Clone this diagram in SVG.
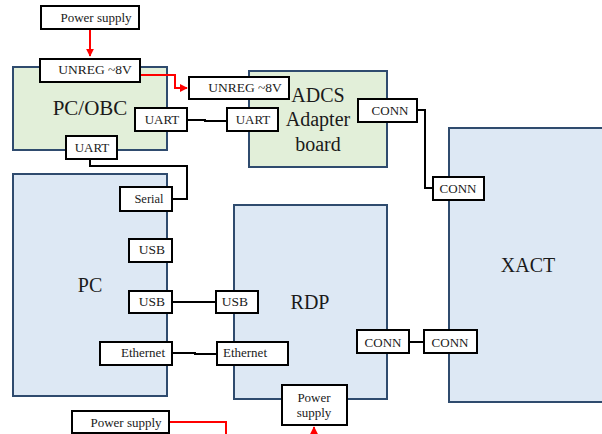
<svg xmlns="http://www.w3.org/2000/svg" width="602" height="434" viewBox="0 0 602 434">
<defs>
<marker id="ra" viewBox="0 0 10 10" refX="9" refY="5" markerWidth="4" markerHeight="4" orient="auto" markerUnits="strokeWidth">
<path d="M0,0 L10,5 L0,10 z" fill="#FF0000"/>
</marker>
</defs>
<style>
.green{fill:#E2EFD9;stroke:#2F4B6E;stroke-width:2}
.blue{fill:#DDE8F4;stroke:#2F4B6E;stroke-width:2}
.port{fill:#FFFFFF;stroke:#000000;stroke-width:2}
text{font-family:'Liberation Serif','Tinos','Times New Roman','DejaVu Serif',serif;fill:#1a1a1a;text-anchor:middle}
.big{font-size:20px}
.sm{font-size:13px}
.wire{fill:none;stroke:#000000;stroke-width:2}
.pwr{fill:none;stroke:#FF0000;stroke-width:2}
</style>
<g id="node-pcobc">
<rect class="green" x="13" y="67" width="154" height="83"/>
<text class="big" x="90" y="115" style="font-size:21px">PC/OBC</text>
</g>
<g id="node-adcs">
<rect class="green" x="249" y="71" width="138" height="96"/>
<text class="big" x="318" y="102">ADCS</text>
<text class="big" x="318" y="126">Adapter</text>
<text class="big" x="318" y="151">board</text>
</g>
<g id="node-pc">
<rect class="blue" x="13" y="174" width="154" height="222"/>
<text class="big" x="90" y="292">PC</text>
</g>
<g id="node-rdp">
<rect class="blue" x="234" y="205" width="153" height="194"/>
<text class="big" x="310" y="309">RDP</text>
</g>
<g id="node-xact">
<rect class="blue" x="449" y="128" width="160" height="274"/>
<text class="big" x="528" y="272">XACT</text>
</g>
<g id="connectors">
<path class="pwr" d="M90,29 V56" marker-end="url(#ra)"/>
<path class="pwr" d="M140,75 H175 V88 H187" marker-end="url(#ra)"/>
<path class="pwr" d="M169,422 H226 V434"/>
<path class="pwr" d="M314,434 V427" marker-end="url(#ra)"/>
<path class="wire" d="M187,120 H205 V121 H227"/>
<path class="wire" d="M90,159 V166 H187 V199 H172"/>
<path class="wire" d="M417,110 H425 V188 H433"/>
<path class="wire" d="M172,302 H216"/>
<path class="wire" d="M172,353 H195 V354 H217"/>
<path class="wire" d="M409,342 H424"/>
</g>
<g id="port-ps-top">
<rect class="port" x="41" y="6" width="98" height="23"/>
<text class="sm" x="96" y="22">Power supply</text>
</g>
<g id="port-unreg-obc">
<rect class="port" x="40" y="59" width="100" height="23"/>
<text class="sm" x="95" y="74" style="font-size:13.5px">UNREG ~8V</text>
</g>
<g id="port-unreg-adcs">
<rect class="port" x="189" y="77" width="100" height="22"/>
<text class="sm" x="245" y="92" style="font-size:13.5px">UNREG ~8V</text>
</g>
<g id="port-uart-obc">
<rect class="port" x="135" y="108" width="52" height="23"/>
<text class="sm" x="162" y="124">UART</text>
</g>
<g id="port-uart-adcs">
<rect class="port" x="227" y="108" width="51" height="23"/>
<text class="sm" x="253" y="124">UART</text>
</g>
<g id="port-uart-obc2">
<rect class="port" x="66" y="136" width="51" height="23"/>
<text class="sm" x="92" y="152">UART</text>
</g>
<g id="port-serial">
<rect class="port" x="120" y="187" width="52" height="24"/>
<text class="sm" x="149" y="203" style="font-size:12.5px">Serial</text>
</g>
<g id="port-conn-adcs">
<rect class="port" x="358" y="99" width="59" height="23"/>
<text class="sm" x="390" y="115">CONN</text>
</g>
<g id="port-conn-xact1">
<rect class="port" x="433" y="177" width="51" height="23"/>
<text class="sm" x="458" y="193">CONN</text>
</g>
<g id="port-usb1">
<rect class="port" x="129" y="239" width="43" height="23"/>
<text class="sm" x="152" y="254" style="font-size:13.5px">USB</text>
</g>
<g id="port-usb2">
<rect class="port" x="129" y="291" width="43" height="22"/>
<text class="sm" x="152" y="306" style="font-size:13.5px">USB</text>
</g>
<g id="port-usb-rdp">
<rect class="port" x="216" y="291" width="42" height="22"/>
<text class="sm" x="235" y="306" style="font-size:13.5px">USB</text>
</g>
<g id="port-eth-pc">
<rect class="port" x="100" y="342" width="72" height="23"/>
<text class="sm" x="143" y="357">Ethernet</text>
</g>
<g id="port-eth-rdp">
<rect class="port" x="217" y="342" width="71" height="23"/>
<text class="sm" x="245" y="357">Ethernet</text>
</g>
<g id="port-conn-rdp">
<rect class="port" x="357" y="330" width="52" height="23"/>
<text class="sm" x="383" y="347">CONN</text>
</g>
<g id="port-conn-xact2">
<rect class="port" x="424" y="330" width="53" height="23"/>
<text class="sm" x="450" y="347">CONN</text>
</g>
<g id="port-ps-rdp">
<rect class="port" x="282" y="385" width="65" height="40"/>
<text class="sm" x="314" y="402">Power</text>
<text class="sm" x="314" y="417">supply</text>
</g>
<g id="port-ps-bottom">
<rect class="port" x="72" y="411" width="97" height="22"/>
<text class="sm" x="126" y="427">Power supply</text>
</g>
</svg>
